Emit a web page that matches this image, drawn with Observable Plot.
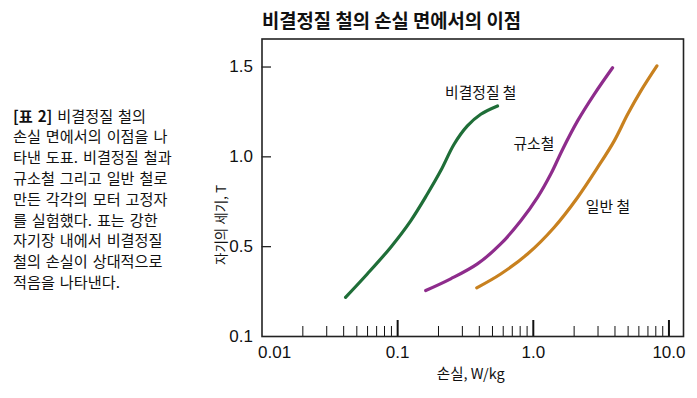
<!DOCTYPE html>
<html><head><meta charset="utf-8">
<script src="https://cdn.jsdelivr.net/npm/d3@7"></script>
<script src="https://cdn.jsdelivr.net/npm/@observablehq/plot@0.6"></script>
<style>
body{margin:0;background:#fff;}
#wrap{position:relative;width:697px;height:398px;overflow:hidden;font-family:"Noto Sans CJK KR",sans-serif;color:#111;}
#title{position:absolute;left:262px;top:0px;height:40px;line-height:40px;font-size:18.8px;font-weight:bold;white-space:nowrap;}
#note{position:absolute;left:13px;top:104.6px;font-size:15.2px;line-height:20.8px;word-spacing:1.5px;white-space:nowrap;}
#ylab{position:absolute;left:221px;top:225px;width:0;height:0;}
#ylab span{position:absolute;left:0;top:0;transform:translate(-50%,-50%) rotate(-90deg);font-size:13.5px;white-space:nowrap;line-height:1;}
#chart{position:absolute;left:0;top:0;}
</style></head>
<body><div id="wrap"><div id="chart"></div><div id="title"></div><div id="note"></div><div id="ylab"><span></span></div></div>
<script>
const titleText = "비결정질 철의 손실 면에서의 이점";
const noteLines = ["<b>[표 2]</b> 비결정질 철의","손실 면에서의 이점을 나","타낸 도표. 비결정질 철과","규소철 그리고 일반 철로","만든 각각의 모터 고정자","를 실험했다. 표는 강한","자기장 내에서 비결정질","철의 손실이 상대적으로","적음을 나타낸다."];
const xLabel = "손실, W/kg";
const yLabel = "자기의 세기, T";

const seriesNames = ["비결정질 철","규소철","일반 철"];
const seriesColors = ["#1f6e38","#8e2c8c","#c8811f"];

const amorphousLoss = [0.0413,0.0597,0.0887,0.1248,0.1656,0.2075,0.2606,0.3266,0.410,0.545];
const amorphousB    = [0.218,0.348,0.496,0.644,0.793,0.922,1.070,1.172,1.237,1.283];
const siliconLoss = [0.161,0.246,0.387,0.575,0.809,1.074,1.346,1.64,2.12,2.81,3.84];
const siliconB    = [0.256,0.321,0.404,0.515,0.644,0.774,0.904,1.040,1.200,1.348,1.496];
const ironLoss = [0.383,0.575,0.906,1.423,2.12,2.98,3.95,4.96,6.21,8.15];
const ironB    = [0.271,0.348,0.459,0.607,0.774,0.941,1.089,1.237,1.367,1.506];

const labelLoss = [0.41,1.01,3.55];
const labelB = [1.356,1.072,0.722];

const xMajorTicks = [0.01,0.1,1,10];
const xMajorLabels = ["0.01","0.1","1.0","10.0"];
const xMinorTicks = [0.02,0.03,0.04,0.05,0.06,0.07,0.08,0.09,0.2,0.3,0.4,0.5,0.6,0.7,0.8,0.9,2,3,4,5,6,7,8,9];
const yTicks = [0,0.5,1.0,1.5];
const yTickLabels = ["0.1","0.5","1.0","1.5"];

document.getElementById("title").textContent = titleText;
document.getElementById("note").innerHTML = noteLines.join("<br>");
document.querySelector("#ylab span").textContent = yLabel;

const series = [
  {name: seriesNames[0], loss: amorphousLoss, b: amorphousB},
  {name: seriesNames[1], loss: siliconLoss, b: siliconB},
  {name: seriesNames[2], loss: ironLoss, b: ironB}
];
const pts = series.flatMap(s => s.loss.map((x,i) => ({name: s.name, x, y: s.b[i]})));
const labels = seriesNames.map((n,i) => ({name: n, x: labelLoss[i], y: labelB[i]}));

const numFont = '"Liberation Sans Narrow","Liberation Sans",Arial,sans-serif';

const plot = Plot.plot({
  width: 697, height: 398,
  marginLeft: 261.5, marginRight: 14, marginTop: 38.5, marginBottom: 62,
  style: {fontFamily: '"Noto Sans CJK KR",sans-serif', background: "transparent", color: "#111"},
  x: {type: "log", domain: [0.01, 12.8]},
  y: {domain: [0, 1.656]},
  color: {domain: seriesNames, range: seriesColors},
  marks: [
    Plot.tickX(xMinorTicks, {x: d => d, stroke: "#111", strokeWidth: 1, insetTop: 287.5}),
    Plot.tickX(xMajorTicks.slice(1), {x: d => d, stroke: "#111", strokeWidth: 2, insetTop: 281.5}),
    Plot.tickY(yTicks.slice(1), {y: d => d, stroke: "#111", strokeWidth: 1.2, insetRight: 412}),
    Plot.axisX(xMajorTicks.slice(1), {tickSize: 0, tickPadding: 9, fontSize: 17, fontFamily: numFont, fill: "#111",
      tickFormat: d => xMajorLabels[xMajorTicks.indexOf(d)], label: null}),
    Plot.axisX([0.01], {tickSize: 0, tickPadding: 9, fontSize: 17, fontFamily: numFont, fill: "#111", textAnchor: "start", dx: -4,
      tickFormat: d => xMajorLabels[0], label: null}),
    Plot.axisY(yTicks, {tickSize: 0, tickPadding: 9, fontSize: 17, fontFamily: numFont, fill: "#111",
      tickFormat: d => yTickLabels[yTicks.indexOf(d)], label: null}),
    Plot.frame({stroke: "#222", strokeWidth: 1.6}),
    Plot.line(pts, {x: "x", y: "y", z: "name", stroke: "name", strokeWidth: 3.2, curve: "catmull-rom", strokeLinecap: "round"}),
    Plot.text(labels, {x: "x", y: "y", text: "name", fontSize: 14.8, fill: "#111"}),
    Plot.text([xLabel], {frameAnchor: "bottom", dy: 42, dx: -2, fontSize: 14.5, fill: "#111"})
  ]
});
document.getElementById("chart").appendChild(plot);
</script></body></html>
